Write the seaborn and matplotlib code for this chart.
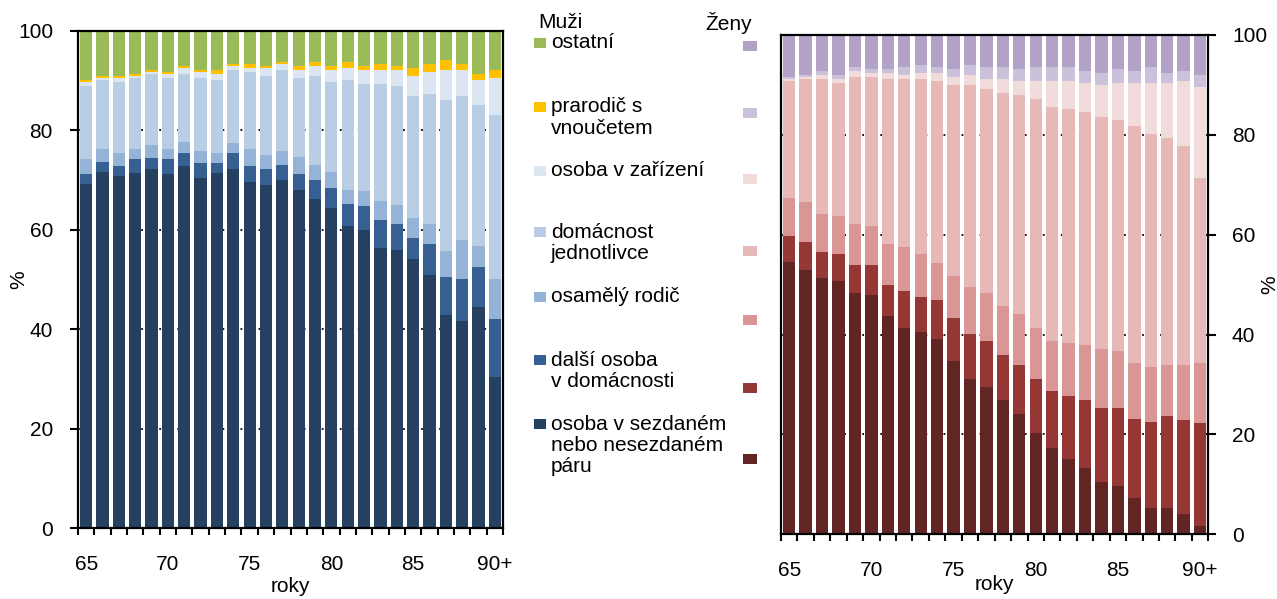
import numpy as np
import pandas as pd
import seaborn as sns
import matplotlib.pyplot as plt
from matplotlib.patches import Rectangle

ages = [str(a) for a in range(65, 90)] + ['90+']
tick_pos = [0, 5, 10, 15, 20, 25]
tick_labels = ['65', '70', '75', '80', '85', '90+']

# legend texts, top -> bottom
legend_labels = ['ostatní', 'prarodič s\nvnoučetem', 'osoba v zařízení',
                 'domácnost\njednotlivce', 'osamělý rodič',
                 'další osoba\nv domácnosti',
                 'osoba v sezdaném\nnebo nesezdaném\npáru']

# Muži (%), categories bottom -> top
m_par = [69.3, 71.7, 70.9, 71.5, 72.2, 71.3, 72.8, 70.5, 71.5, 72.2, 69.7, 69.0, 70.1,
         68.1, 66.1, 64.4, 60.8, 60.0, 56.4, 56.0, 54.1, 50.9, 42.9, 41.7, 44.5, 30.4]
m_dalsi = [2.0, 1.9, 1.9, 2.7, 2.2, 2.9, 2.6, 2.9, 1.9, 3.2, 3.1, 3.2, 2.9,
           3.2, 4.0, 4.1, 4.4, 4.8, 5.6, 5.2, 4.3, 6.3, 7.6, 8.4, 8.0, 11.7]
m_osam = [2.9, 2.6, 2.6, 2.0, 2.6, 2.0, 2.2, 2.4, 2.0, 2.0, 3.4, 2.8, 2.8,
          3.3, 2.9, 3.2, 2.9, 2.9, 3.7, 3.7, 4.0, 4.0, 5.3, 7.9, 4.3, 8.0]
m_jedn = [14.7, 14.0, 14.4, 14.4, 14.4, 14.4, 13.8, 14.8, 14.8, 14.8, 15.6, 16.0, 16.4,
          16.0, 18.0, 18.1, 22.1, 21.6, 23.6, 24.0, 24.5, 26.1, 30.3, 28.9, 28.2, 33.0]
m_zariz = [0.9, 0.4, 0.8, 0.4, 0.4, 0.8, 1.2, 1.2, 1.2, 0.8, 0.8, 1.6, 1.2,
           1.6, 2.0, 2.4, 2.4, 2.9, 2.9, 3.3, 4.1, 4.5, 6.1, 5.3, 5.2, 7.5]
m_prarod = [0.4, 0.4, 0.4, 0.4, 0.4, 0.4, 0.4, 0.4, 0.8, 0.4, 0.8, 0.4, 0.4,
            0.8, 0.8, 0.8, 1.2, 0.8, 1.2, 0.8, 1.6, 1.6, 2.0, 1.2, 1.2, 1.6]
m_ostat = [9.8, 9.0, 9.0, 8.6, 7.8, 8.2, 7.0, 7.8, 7.8, 6.6, 6.6, 7.0, 6.2,
           7.0, 6.2, 7.0, 6.2, 7.0, 6.6, 7.0, 7.4, 6.6, 5.8, 6.6, 8.6, 7.8]

# Ženy (%), categories bottom -> top
z_par = [54.6, 53.0, 51.4, 50.8, 48.4, 48.0, 43.7, 41.3, 40.5, 39.2, 34.8, 31.2, 29.6,
         26.8, 24.0, 20.2, 17.3, 15.0, 13.3, 10.5, 9.7, 7.3, 5.3, 5.3, 4.1, 1.7]
z_dalsi = [5.1, 5.5, 5.1, 5.3, 5.6, 6.0, 6.3, 7.5, 7.1, 7.7, 8.5, 8.9, 9.2,
           9.2, 10.0, 11.0, 11.5, 12.6, 13.5, 14.7, 15.5, 15.7, 17.1, 18.3, 18.7, 20.5]
z_osam = [7.6, 8.0, 7.6, 7.6, 8.1, 7.7, 8.1, 8.7, 8.5, 7.5, 8.5, 9.4, 9.5,
          9.7, 10.1, 10.1, 10.0, 10.8, 11.2, 12.0, 11.6, 11.4, 11.2, 10.4, 11.2, 12.2]
z_jedn = [23.5, 24.7, 27.1, 26.7, 29.5, 29.9, 33.1, 33.7, 35.1, 36.4, 38.2, 40.5, 40.9,
          42.7, 43.9, 45.9, 46.8, 46.8, 46.5, 46.3, 46.1, 47.3, 46.5, 45.3, 43.7, 36.9]
z_zariz = [0.4, 0.4, 0.8, 0.8, 1.2, 0.8, 1.2, 0.8, 1.2, 1.6, 1.6, 2.0, 2.0,
           2.8, 2.8, 3.6, 5.2, 5.6, 5.9, 6.5, 7.5, 8.7, 10.3, 11.1, 13.1, 18.3]
z_prarod = [0.4, 0.4, 0.8, 0.8, 0.8, 0.8, 0.8, 1.6, 1.6, 1.2, 1.6, 2.0, 2.4,
            2.4, 2.4, 2.8, 2.8, 2.8, 2.4, 2.4, 2.8, 2.4, 3.2, 2.0, 2.0, 2.4]
z_ostat = [8.4, 8.0, 7.2, 8.0, 6.4, 6.8, 6.8, 6.4, 6.0, 6.4, 6.8, 6.0, 6.4,
           6.4, 6.8, 6.4, 6.4, 6.4, 7.2, 7.6, 6.8, 7.2, 6.4, 7.6, 7.2, 8.0]

keys = ['par', 'dalsi', 'osam', 'jedn', 'zariz', 'prarod', 'ostat']
men_colors = ['#254061', '#376092', '#95B3D7', '#B9CDE5', '#DCE6F2', '#FFC000', '#9BBB59']
women_colors = ['#632523', '#953735', '#D99694', '#E6B9B8', '#F2DCDB', '#CCC1DA', '#B3A2C7']

men = pd.DataFrame(dict(zip(keys, [m_par, m_dalsi, m_osam, m_jedn, m_zariz, m_prarod, m_ostat])), index=ages)
women = pd.DataFrame(dict(zip(keys, [z_par, z_dalsi, z_osam, z_jedn, z_zariz, z_prarod, z_ostat])), index=ages)

sns.set_style('white')
plt.rcParams['font.family'] = ['Liberation Sans', 'DejaVu Sans']
plt.rcParams['font.size'] = 15
for k in ['text.color', 'axes.labelcolor', 'xtick.color', 'ytick.color']:
    plt.rcParams[k] = 'black'

W, H = 1277, 599
fig = plt.figure(figsize=(W / 100, H / 100), dpi=100)
ax1 = fig.add_axes([78 / W, 1 - 528.3 / H, 425 / W, 497.5 / H])
ax2 = fig.add_axes([781 / W, 1 - 534.3 / H, 427.3 / W, 499.3 / H])


def stacked(ax, df, colors):
    cum = df.cumsum(axis=1)
    # draw the tallest stack first, then overlay the lower ones
    for key, col in reversed(list(zip(keys, colors))):
        sns.barplot(x=ages, y=cum[key].values, color=col, width=0.75, saturation=1,
                    errorbar=None, ax=ax, zorder=2, linewidth=0, edgecolor='none')
    ax.set_xlim(-0.5, 25.5)
    ax.set_ylim(0, 100)
    ax.set_xticks(tick_pos)
    ax.set_xticklabels(tick_labels)
    ax.set_xticks(np.arange(-0.5, 26, 1), minor=True)
    ax.set_yticks(range(0, 101, 20))
    ax.tick_params(axis='x', which='major', length=0, pad=19, labelsize=15)
    ax.tick_params(axis='x', which='minor', length=5, width=1.5, direction='out', bottom=True)
    ax.tick_params(axis='y', length=6, width=1.5, direction='out', labelsize=15)
    ax.yaxis.grid(True, linestyle=(0, (1, 4)), color='black', lw=1.3)
    ax.xaxis.grid(False)
    ax.set_axisbelow(True)
    for s in ax.spines.values():
        s.set_color('black')
        s.set_linewidth(1.6)
    ax.set_xlabel('roky', fontsize=15)
    ax.set_ylabel('%', fontsize=15)


stacked(ax1, men, men_colors)
ax1.tick_params(axis='y', left=True, pad=12)
ax1.xaxis.set_label_coords(0.5, -0.098)
ax1.yaxis.set_label_coords(-0.118, 0.5)

stacked(ax2, women, women_colors)
ax2.yaxis.tick_right()
ax2.yaxis.set_label_position('right')
ax2.tick_params(axis='y', right=True, left=False, pad=11)
ax2.xaxis.set_label_coords(0.5, -0.0815)
ax2.yaxis.set_label_coords(1.121, 0.5)

# legend in the middle
fig.text(538 / W, 1 - 23 / H, 'Muži', fontsize=15, va='center', ha='left')
fig.text(705 / W, 1 - 23 / H, 'Ženy', fontsize=15, va='center', ha='left')
men_y = [43, 107, 171, 232, 297, 360, 424]
women_y = [46, 113, 179, 251, 320, 388, 459]
for i, lab in enumerate(legend_labels):
    c_m = men_colors[::-1][i]
    c_w = women_colors[::-1][i]
    fig.add_artist(Rectangle((534 / W, 1 - (men_y[i] + 5) / H), 12 / W, 10 / H,
                             transform=fig.transFigure, facecolor=c_m, edgecolor='none'))
    fig.add_artist(Rectangle((743 / W, 1 - (women_y[i] + 5) / H), 14 / W, 10 / H,
                             transform=fig.transFigure, facecolor=c_w, edgecolor='none'))
    for j, line in enumerate(lab.split('\n')):
        fig.text(551 / W, 1 - (men_y[i] + j * 21.5) / H, line, fontsize=15,
                 va='center', ha='left')

fig.savefig('out.png', dpi=100)
